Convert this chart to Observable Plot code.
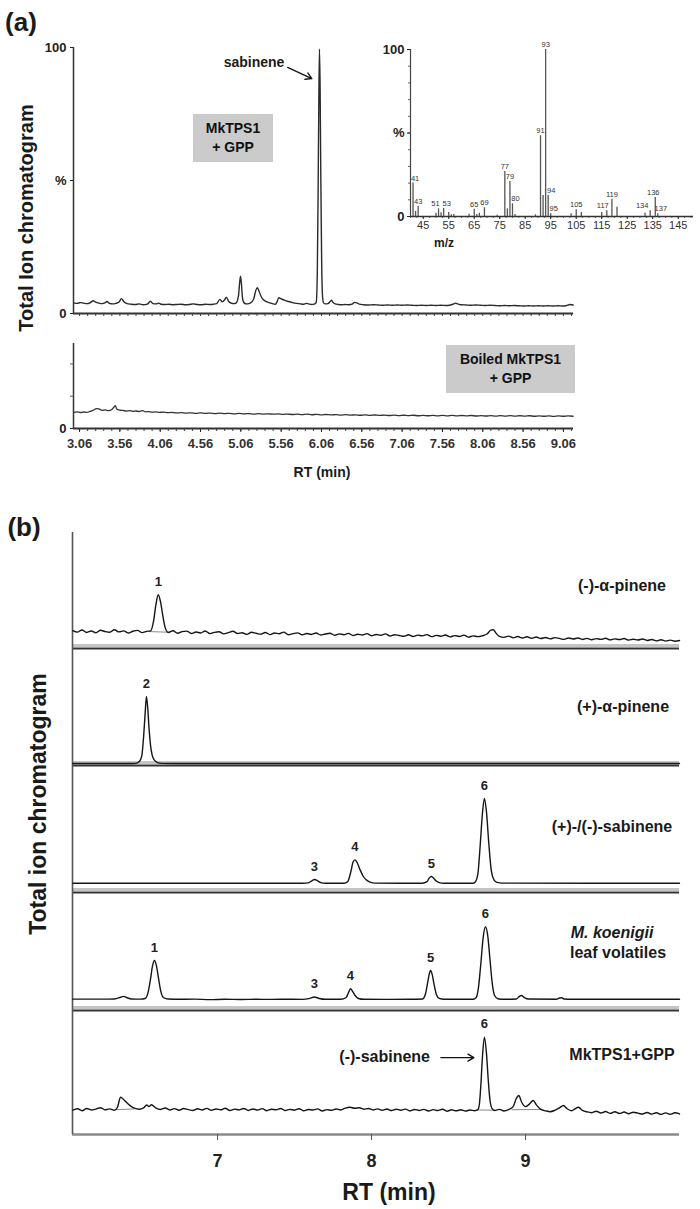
<!DOCTYPE html>
<html><head><meta charset="utf-8">
<script src="https://cdn.jsdelivr.net/npm/d3@7"></script>
<script src="https://cdn.jsdelivr.net/npm/@observablehq/plot@0.6"></script>
<style>
body{margin:0;background:#fff;}
#fig{position:relative;width:700px;height:1209px;overflow:hidden;font-family:"Liberation Sans",Arial,sans-serif;color:#1a1a1a;}
.lab{position:absolute;transform:translate(-50%,-50%);white-space:nowrap;font-weight:bold;line-height:1;}
.box{position:absolute;background:#cbcbcb;display:flex;align-items:center;justify-content:center;text-align:center;font-weight:bold;font-size:14px;line-height:1.35;color:#111;}
</style></head><body><div id="fig"></div>
<script>
// ---------------- DATA ----------------
// Panel (a): RT axis (min)
const rtDomainA = [2.985, 9.185];
const rtTicksA = [3.06, 3.56, 4.06, 4.56, 5.06, 5.56, 6.06, 6.56, 7.06, 7.56, 8.06, 8.56, 9.06];
const pctTicks = [0, 50, 100];
const pctTickText = ["0", "%", "100"];
// MkTPS1 + GPP total ion chromatogram [RT, %]
const traceA1 = [[2.99,4.0],[3.03,3.8],[3.07,4.1],[3.11,3.9],[3.15,3.7],[3.19,4.0],[3.23,4.8],[3.26,4.3],[3.30,3.9],[3.34,3.7],[3.38,4.1],[3.40,4.5],[3.43,3.8],[3.47,3.6],[3.51,3.8],[3.55,4.3],[3.58,5.6],[3.61,4.4],[3.65,3.7],[3.70,3.5],[3.75,3.4],[3.80,3.6],[3.85,3.3],[3.90,3.5],[3.94,4.6],[3.97,3.7],[4.01,3.6],[4.04,3.9],[4.07,3.5],[4.12,3.4],[4.17,3.5],[4.22,3.3],[4.27,3.4],[4.32,3.5],[4.37,3.3],[4.42,3.4],[4.47,3.6],[4.52,3.4],[4.57,3.3],[4.62,3.5],[4.67,3.4],[4.72,3.5],[4.76,3.7],[4.80,5.3],[4.83,4.4],[4.86,5.2],[4.88,6.1],[4.91,4.5],[4.94,3.9],[4.97,3.7],[5.00,3.9],[5.03,6.5],[5.045,11.5],[5.056,14.0],[5.068,11.0],[5.08,6.0],[5.10,4.0],[5.13,3.6],[5.16,3.7],[5.19,4.2],[5.22,5.5],[5.245,8.6],[5.265,9.7],[5.285,8.4],[5.31,6.5],[5.34,5.2],[5.37,4.6],[5.40,4.2],[5.43,3.9],[5.46,3.6],[5.49,3.5],[5.51,4.5],[5.53,5.9],[5.56,5.5],[5.60,5.0],[5.65,4.5],[5.70,4.1],[5.75,3.8],[5.80,3.6],[5.84,3.5],[5.87,3.8],[5.90,3.6],[5.94,3.4],[5.97,3.5],[5.995,4.2],[6.008,15],[6.018,45],[6.027,80],[6.035,99.5],[6.043,85],[6.052,50],[6.062,20],[6.072,7],[6.085,4.0],[6.11,3.6],[6.14,3.7],[6.17,4.6],[6.185,5.0],[6.20,4.3],[6.23,3.6],[6.27,3.4],[6.31,3.3],[6.35,3.4],[6.40,3.3],[6.44,3.5],[6.47,4.2],[6.50,4.0],[6.53,3.5],[6.58,3.3],[6.64,3.2],[6.70,3.3],[6.76,3.2],[6.82,3.1],[6.88,3.2],[6.94,3.1],[7.00,3.2],[7.06,3.1],[7.12,3.2],[7.18,3.1],[7.24,3.0],[7.30,3.1],[7.36,3.0],[7.42,3.1],[7.48,3.0],[7.54,3.1],[7.60,3.0],[7.66,3.2],[7.70,3.6],[7.72,3.9],[7.75,3.6],[7.79,3.3],[7.85,3.2],[7.91,3.1],[7.97,3.2],[8.03,3.1],[8.09,3.0],[8.15,3.1],[8.21,3.0],[8.27,2.9],[8.33,3.0],[8.39,2.9],[8.45,3.0],[8.51,2.9],[8.57,2.8],[8.63,2.9],[8.69,2.8],[8.75,2.9],[8.81,2.8],[8.87,2.9],[8.93,2.8],[8.99,2.9],[9.05,2.8],[9.10,3.0],[9.14,3.4],[9.18,3.2]];
// Boiled MkTPS1 + GPP [RT, % of panel]
const traceA2 = [[2.99,19.0],[3.03,19.5],[3.07,18.8],[3.11,19.4],[3.15,19.0],[3.19,20.2],[3.23,21.5],[3.27,23.5],[3.30,23.0],[3.34,21.4],[3.38,21.8],[3.42,21.0],[3.46,22.4],[3.49,25.5],[3.505,26.8],[3.52,23.0],[3.56,21.6],[3.60,21.2],[3.64,20.5],[3.68,21.0],[3.72,20.2],[3.76,20.6],[3.80,20.0],[3.84,21.0],[3.88,19.6],[3.92,19.9],[3.96,19.2],[4.00,19.5],[4.05,18.9],[4.10,19.3],[4.15,18.6],[4.20,18.9],[4.26,18.3],[4.32,18.7],[4.38,18.1],[4.44,18.5],[4.50,17.9],[4.56,18.3],[4.62,17.8],[4.68,18.2],[4.74,17.6],[4.80,18.0],[4.86,17.5],[4.92,17.9],[4.98,17.3],[5.04,17.7],[5.10,17.2],[5.16,17.6],[5.22,17.0],[5.28,17.5],[5.34,16.9],[5.40,17.3],[5.46,16.8],[5.52,17.2],[5.58,16.6],[5.64,17.0],[5.70,16.5],[5.76,16.9],[5.82,16.4],[5.88,16.8],[5.94,16.2],[6.00,16.7],[6.06,16.1],[6.12,16.5],[6.18,16.0],[6.24,16.4],[6.30,15.8],[6.36,16.3],[6.42,15.7],[6.48,16.1],[6.54,15.6],[6.60,16.0],[6.66,15.5],[6.72,15.9],[6.78,15.4],[6.84,15.8],[6.90,15.3],[6.96,15.7],[7.02,15.2],[7.08,15.6],[7.14,15.1],[7.20,15.6],[7.26,15.0],[7.32,15.5],[7.38,15.0],[7.44,15.4],[7.50,14.9],[7.56,15.4],[7.62,14.9],[7.68,15.4],[7.74,14.8],[7.80,15.3],[7.86,14.8],[7.92,15.3],[7.98,14.7],[8.04,15.2],[8.10,14.7],[8.16,15.2],[8.22,14.6],[8.28,15.1],[8.34,14.6],[8.40,15.1],[8.46,14.5],[8.52,15.0],[8.58,14.5],[8.64,15.0],[8.70,14.4],[8.76,14.9],[8.82,14.4],[8.88,14.9],[8.94,14.3],[9.00,14.9],[9.06,14.4],[9.12,14.8],[9.18,14.4]];
const boiledYTicks = [38, 76];
const sabArrowA = [{x1: 5.64, y1: 92.5, x2: 5.94, y2: 88.3}];

// Inset mass spectrum [m/z, relative %]
const mzDomain = [40, 151];
const mzTicks = [45, 55, 65, 75, 85, 95, 105, 115, 125, 135, 145];
const spectrum = [[41,20],[42,3],[43,6],[50,2],[51,4.6],[52,2.2],[53,4.8],[55,2.4],[56,1],[57,1.2],[63,1.4],[65,4.4],[66,1.2],[67,2],[69,5.2],[74,0.8],[77,27],[78,4.6],[79,21],[80,7.6],[81,1.2],[89,1],[91,48.4],[92,12.6],[93,100],[94,12.6],[95,1.6],[103,1.6],[105,4],[107,2.4],[115,2.4],[117,3.4],[119,10.4],[121,5.6],[132,2],[134,3.4],[136,11.4],[137,1.6]];
const labelledMz = [41,43,51,53,65,69,77,79,80,91,93,94,95,105,117,119,134,136,137];

// Panel (b): RT axis (min)
const rtDomainB = [6.058, 10];
const rtTicksB = [7, 8, 9];
const traceB1 = [[6.06,15.4],[6.09,14.1],[6.12,16.0],[6.15,13.8],[6.18,15.1],[6.21,13.5],[6.24,15.7],[6.27,14.6],[6.30,14.0],[6.33,16.2],[6.36,14.3],[6.39,15.2],[6.42,13.4],[6.45,14.9],[6.48,15.6],[6.51,13.7],[6.54,14.8],[6.565,15.2],[6.585,24],[6.60,38],[6.615,46.3],[6.63,40],[6.645,28],[6.66,18],[6.68,13.8],[6.71,15.3],[6.74,13.2],[6.77,14.6],[6.80,15.0],[6.83,12.9],[6.86,14.2],[6.89,13.4],[6.92,15.1],[6.95,12.8],[6.98,13.9],[7.01,14.4],[7.04,12.6],[7.07,13.7],[7.10,14.9],[7.13,12.9],[7.16,13.6],[7.19,12.2],[7.22,14.0],[7.25,13.1],[7.28,12.4],[7.31,13.8],[7.34,12.0],[7.37,13.3],[7.40,12.7],[7.43,14.1],[7.46,11.9],[7.49,12.8],[7.52,13.5],[7.55,11.8],[7.58,12.9],[7.61,12.1],[7.64,13.4],[7.67,11.6],[7.70,12.5],[7.73,13.2],[7.76,11.4],[7.79,12.6],[7.82,11.9],[7.85,13.0],[7.88,11.2],[7.91,12.3],[7.94,11.6],[7.97,12.8],[8.00,11.0],[8.03,12.1],[8.06,11.4],[8.09,12.6],[8.12,10.8],[8.15,11.9],[8.18,11.2],[8.21,10.5],[8.24,11.8],[8.27,10.4],[8.30,11.5],[8.33,10.9],[8.36,12.0],[8.39,10.2],[8.42,11.3],[8.45,10.6],[8.48,11.7],[8.51,10.0],[8.54,11.1],[8.57,10.4],[8.60,11.5],[8.63,9.8],[8.66,10.9],[8.69,10.2],[8.72,11.0],[8.75,12.5],[8.775,15.8],[8.79,16.1],[8.81,13.0],[8.83,10.4],[8.86,9.6],[8.89,10.7],[8.92,9.2],[8.95,10.3],[8.98,9.0],[9.01,10.1],[9.04,8.8],[9.07,9.9],[9.10,8.6],[9.13,9.5],[9.16,8.3],[9.19,9.4],[9.22,8.7],[9.25,7.9],[9.28,9.0],[9.31,8.2],[9.34,9.1],[9.37,7.8],[9.40,8.7],[9.43,7.6],[9.46,8.5],[9.49,7.9],[9.52,8.8],[9.55,7.4],[9.58,8.3],[9.61,7.7],[9.64,8.6],[9.67,7.2],[9.70,8.0],[9.73,7.3],[9.76,8.2],[9.79,6.9],[9.82,7.8],[9.85,6.6],[9.88,7.5],[9.91,6.4],[9.94,7.2],[9.97,6.3],[10.0,6.9]];
const traceB2 = [[6.06,1.7],[6.30,1.7],[6.45,1.7],[6.48,2.2],[6.50,5],[6.51,10],[6.52,25],[6.53,45],[6.538,59],[6.546,50],[6.555,32],[6.565,17],[6.575,9],[6.59,4.5],[6.61,2.5],[6.64,1.8],[6.70,1.7],[10.0,1.7]];
const traceB3 = [[6.06,7.3],[7.55,7.3],[7.59,7.6],[7.61,9.0],[7.629,10.2],[7.65,9.2],[7.67,7.8],[7.70,7.3],[7.82,7.3],[7.845,8.5],[7.865,16],[7.88,24],[7.892,25.7],[7.905,24],[7.925,18],[7.945,13],[7.965,10],[7.99,8.2],[8.02,7.4],[8.33,7.3],[8.36,8.5],[8.375,11.5],[8.389,12.6],[8.405,11],[8.42,9],[8.44,7.8],[8.47,7.3],[8.66,7.3],[8.675,8.5],[8.69,14],[8.705,36],[8.72,62],[8.733,74],[8.746,64],[8.762,38],[8.778,17],[8.795,10],[8.815,8],[8.85,7.4],[10.0,7.3]];
const traceB4 = [[6.06,9.6],[6.25,9.6],[6.33,9.8],[6.37,11.2],[6.39,12.0],[6.41,11.0],[6.44,9.8],[6.50,9.6],[6.53,10.2],[6.55,16],[6.565,27],[6.578,38],[6.59,42.4],[6.603,38],[6.617,27],[6.632,16],[6.65,10.8],[6.68,9.7],[6.75,9.5],[6.85,9.6],[6.95,9.2],[7.05,9.5],[7.15,9.3],[7.25,9.5],[7.35,9.4],[7.45,9.5],[7.55,9.4],[7.60,10.3],[7.629,11.5],[7.66,10.2],[7.70,9.5],[7.80,9.5],[7.835,11],[7.85,15],[7.863,18.4],[7.878,16],[7.895,12.5],[7.915,10.2],[7.95,9.5],[8.10,9.4],[8.25,9.5],[8.33,9.7],[8.35,14],[8.365,24],[8.375,31],[8.383,33.9],[8.393,31],[8.405,23],[8.42,14],[8.44,10.2],[8.47,9.5],[8.66,9.5],[8.68,11],[8.695,20],[8.71,40],[8.725,62],[8.74,71],[8.755,63],[8.77,42],[8.785,22],[8.80,12.5],[8.82,10],[8.86,9.5],[8.94,9.7],[8.96,12],[8.974,12.7],[8.99,11.2],[9.02,9.7],[9.20,9.5],[9.22,10.6],[9.235,10.8],[9.25,9.7],[9.30,9.5],[10.0,9.5]];
const traceB5 = [[6.06,19.6],[6.09,20.8],[6.12,19.2],[6.15,21.0],[6.18,19.8],[6.21,20.5],[6.24,21.6],[6.27,19.9],[6.30,20.7],[6.33,19.5],[6.35,22],[6.37,30],[6.40,27],[6.43,23.5],[6.46,21.2],[6.49,20.4],[6.52,21.5],[6.54,23.8],[6.555,22.5],[6.57,24],[6.60,21.3],[6.63,20.2],[6.66,21.4],[6.69,19.8],[6.72,20.9],[6.75,19.6],[6.78,21.0],[6.81,20.1],[6.84,19.4],[6.87,20.8],[6.90,19.7],[6.93,21.1],[6.96,19.5],[6.99,20.6],[7.02,19.9],[7.05,21.2],[7.08,19.3],[7.11,20.5],[7.14,19.8],[7.17,21.0],[7.20,19.4],[7.23,20.6],[7.26,19.7],[7.29,20.9],[7.32,19.2],[7.35,20.4],[7.38,19.9],[7.41,21.0],[7.44,19.3],[7.47,20.3],[7.50,19.6],[7.53,20.8],[7.56,19.1],[7.59,20.2],[7.62,19.7],[7.65,20.7],[7.68,19.0],[7.71,20.1],[7.74,19.5],[7.77,20.6],[7.80,19.8],[7.83,21.3],[7.86,22.0],[7.89,21.2],[7.92,21.6],[7.95,20.4],[7.98,21.0],[8.01,19.8],[8.04,20.7],[8.07,19.5],[8.10,20.6],[8.13,19.3],[8.16,20.4],[8.19,19.6],[8.22,20.5],[8.25,19.0],[8.28,20.2],[8.31,19.4],[8.34,20.3],[8.37,18.9],[8.40,20.1],[8.43,19.3],[8.46,20.4],[8.49,18.8],[8.52,19.9],[8.55,19.1],[8.58,20.0],[8.61,18.9],[8.64,19.8],[8.67,19.2],[8.69,20.0],[8.70,24],[8.71,40],[8.72,62],[8.733,78.5],[8.746,66],[8.758,44],[8.77,27],[8.785,20.5],[8.80,19.4],[8.83,20.3],[8.86,19.0],[8.89,20.1],[8.92,22.5],[8.94,29],[8.956,31.5],[8.975,26],[9.00,22.5],[9.025,24.5],[9.05,27.4],[9.07,24],[9.10,20.2],[9.13,19.1],[9.16,18.4],[9.19,19.5],[9.22,21.5],[9.246,23.4],[9.27,20.8],[9.30,19.2],[9.32,20.6],[9.344,22],[9.37,19.4],[9.40,18.2],[9.43,17.6],[9.46,18.8],[9.49,17.3],[9.52,18.5],[9.55,17.0],[9.58,18.3],[9.61,16.9],[9.64,18.1],[9.67,16.7],[9.70,18.0],[9.73,17.2],[9.76,16.5],[9.79,17.8],[9.82,16.4],[9.85,17.6],[9.88,16.2],[9.91,17.4],[9.94,16.3],[9.97,17.5],[10.0,16.6]];
// peak labels [RT, apex %, label]
const peaksB1 = [[6.615,46.3,"1"]];
const peaksB2 = [[6.538,59,"2"]];
const peaksB3 = [[7.629,10.2,"3"],[7.892,25.7,"4"],[8.389,12.6,"5"],[8.733,74,"6"]];
const peaksB4 = [[6.59,42.4,"1"],[7.629,11.5,"3"],[7.863,18.4,"4"],[8.383,33.9,"5"],[8.74,71,"6"]];
const peaksB5 = [[8.733,78.5,"6"]];
// integration baselines [RT1, y1, RT2, y2]
const baseB1 = [[6.555,14.6,6.69,14.0]];
const baseB5 = [[6.335,20.0,6.46,20.6],[8.685,19.8,8.80,19.6],[8.91,20.0,9.10,20.2]];
const sabArrowB = [{x1: 8.45, y1: 62, x2: 8.665, y2: 62}];

// ---------------- DRAWING ----------------
const FONT = '"Liberation Sans", Arial, sans-serif';
const fig = document.getElementById("fig");
const baseStyle = {background: "transparent", overflow: "visible", fontFamily: FONT, color: "#222"};
// label nudges (px) for crowded m/z annotations
const mzLabelDx = {41: 2, 51: -3, 53: 3, 80: 3, 94: 3, 95: 3, 117: -4, 134: -8, 136: -2, 137: 3};
function place(svg, top) {
  svg.style.position = "absolute"; svg.style.left = "0px"; svg.style.top = top + "px";
  fig.appendChild(svg);
}
function label(text, x, y, size, extra = {}) {
  const d = document.createElement("div");
  d.className = "lab"; d.textContent = text;
  d.style.left = x + "px"; d.style.top = y + "px"; d.style.fontSize = size + "px";
  Object.assign(d.style, extra); fig.appendChild(d); return d;
}
function box(lines, x, y, w, h) {
  const d = document.createElement("div");
  d.className = "box"; d.innerHTML = lines.join("<br>");
  Object.assign(d.style, {left: x + "px", top: y + "px", width: w + "px", height: h + "px"});
  fig.appendChild(d);
}
const X = d => d[0], Y = d => d[1];
const blank = () => "";
const minorA = d3.range(0, 63).map(i => +(2.96 + i * 0.1).toFixed(2)).filter(v => v >= rtDomainA[0] && v <= rtDomainA[1]);
const mzMinor = d3.range(40, 152, 2.5);

// (a) top chromatogram
place(Plot.plot({
  width: 700, height: 333, marginLeft: 73, marginRight: 127, marginTop: 47, marginBottom: 20,
  x: {domain: rtDomainA, label: null, axis: null}, y: {domain: [0, 100], label: null, axis: null},
  style: baseStyle,
  marks: [
    Plot.ruleX([rtDomainA[0]], {y1: 0, y2: 100, stroke: "#333", strokeWidth: 1.5}),
    Plot.axisY({ticks: pctTicks, tickFormat: d => pctTickText[pctTicks.indexOf(d)], tickSize: 3, tickPadding: 4, fontSize: 13, fontWeight: "bold", fill: "#222", label: null}),
    Plot.axisX({ticks: minorA, tickSize: 3, tickFormat: blank, label: null, stroke: "#444"}),
    Plot.ruleY([0], {stroke: "#333", strokeWidth: 2}),
    Plot.line(traceA1, {x: X, y: Y, stroke: "#2a2a2a", strokeWidth: 1.4, curve: "monotone-x"}),
    Plot.arrow(sabArrowA, {x1: "x1", y1: "y1", x2: "x2", y2: "y2", stroke: "#111", strokeWidth: 1.3, headLength: 8})
  ]
}), 0);

// inset mass spectrum
place(Plot.plot({
  width: 700, height: 246, marginLeft: 410, marginRight: 7, marginTop: 49, marginBottom: 30,
  x: {domain: mzDomain, label: null, axis: null}, y: {domain: [0, 100], label: null, axis: null},
  style: baseStyle,
  marks: [
    Plot.ruleX([mzDomain[0]], {y1: 0, y2: 100, stroke: "#444", strokeWidth: 1.2}),
    Plot.axisY({ticks: d3.range(0, 101, 10), tickSize: 2, tickFormat: blank, label: null, stroke: "#666"}),
    Plot.axisY({ticks: pctTicks, tickFormat: d => pctTickText[pctTicks.indexOf(d)], tickSize: 3, tickPadding: 3, fontSize: 13, fontWeight: "bold", fill: "#222", label: null}),
    Plot.axisX({ticks: mzMinor, tickSize: 2, tickFormat: blank, label: null, stroke: "#666"}),
    Plot.axisX({ticks: mzTicks, tickSize: 3, tickPadding: 2, fontSize: 11, fill: "#333", label: null}),
    Plot.ruleY([0], {stroke: "#333", strokeWidth: 1.5}),
    Plot.ruleX(spectrum, {x: X, y1: 0, y2: Y, stroke: "#555", strokeWidth: 1.3}),
    ...spectrum.filter(d => labelledMz.includes(d[0])).map(d =>
      Plot.text([d], {x: X, y: Y, text: e => String(e[0]), dy: -5, dx: mzLabelDx[d[0]] || 0, fontSize: 7.5, fill: "#333"}))
  ]
}), 0);

// (a) bottom chromatogram (boiled)
place(Plot.plot({
  width: 700, height: 125, marginLeft: 73, marginRight: 127, marginTop: 10, marginBottom: 30,
  x: {domain: rtDomainA, label: null, axis: null}, y: {domain: [0, 100], label: null, axis: null},
  style: baseStyle,
  marks: [
    Plot.ruleX([rtDomainA[0]], {y1: 0, y2: 100, stroke: "#333", strokeWidth: 1.5}),
    Plot.axisY({ticks: [0], tickFormat: d => pctTickText[pctTicks.indexOf(d)], tickSize: 3, tickPadding: 4, fontSize: 13, fontWeight: "bold", fill: "#222", label: null}),
    Plot.axisY({ticks: boiledYTicks, tickSize: 3, tickFormat: blank, label: null, stroke: "#666"}),
    Plot.axisX({ticks: minorA, tickSize: 3, tickFormat: blank, label: null, stroke: "#444"}),
    Plot.axisX({ticks: rtTicksA, tickSize: 4, tickPadding: 6, tickFormat: d => d.toFixed(2), fontSize: 13, fontWeight: "bold", fill: "#333", label: null}),
    Plot.ruleY([0], {stroke: "#333", strokeWidth: 2}),
    Plot.line(traceA2, {x: X, y: Y, stroke: "#333", strokeWidth: 1.3, curve: "monotone-x"})
  ]
}), 333);

// (b) stacked chromatograms
function chrom({data, peaks, bases = [], top, bottom, last = false, extra = []}) {
  const mt = 20, mb = last ? 45 : 6;
  const h = bottom - top;
  place(Plot.plot({
    width: 700, height: h + mt + mb, marginLeft: 72, marginRight: 21, marginTop: mt, marginBottom: mb,
    x: {domain: rtDomainB, label: null, axis: null}, y: {domain: [0, 100], label: null, axis: null},
    style: baseStyle,
    marks: [
      last ? Plot.ruleY([0], {stroke: "#8a8a8a", strokeWidth: 2.5})
           : [Plot.ruleY([0], {stroke: "#c4c4c4", strokeWidth: 3, dy: -3}), Plot.ruleY([0], {stroke: "#333", strokeWidth: 2})],
      Plot.ruleX([rtDomainB[0]], {y1: 0, y2: 100, stroke: "#555", strokeWidth: 1.6}),
      Plot.link(bases, {x1: d => d[0], y1: d => d[1], x2: d => d[2], y2: d => d[3], stroke: "#8a8a8a", strokeWidth: 1}),
      Plot.line(data, {x: X, y: Y, stroke: "#151515", strokeWidth: 1.4, curve: "monotone-x"}),
      Plot.text(peaks, {x: X, y: Y, text: d => d[2], dy: -13, fontSize: 13, fontWeight: "bold", fill: "#222"}),
      last ? Plot.axisX({ticks: rtTicksB, tickSize: 6, tickPadding: 14, tickFormat: d => String(d), fontSize: 18, fontWeight: "bold", fill: "#222", stroke: "#555", label: null}) : null,
      ...extra
    ]
  }), top - mt);
}
chrom({data: traceB1, peaks: peaksB1, bases: baseB1, top: 532, bottom: 648});
chrom({data: traceB2, peaks: peaksB2, top: 648, bottom: 765});
chrom({data: traceB3, peaks: peaksB3, top: 765, bottom: 892});
chrom({data: traceB4, peaks: peaksB4, top: 892, bottom: 1010});
chrom({data: traceB5, peaks: peaksB5, bases: baseB5, top: 1010, bottom: 1134, last: true,
  extra: [Plot.arrow(sabArrowB, {x1: "x1", y1: "y1", x2: "x2", y2: "y2", stroke: "#111", strokeWidth: 1.3, headLength: 8})]});

// ---------------- TEXT ----------------
label("(a)", 21, 22, 26);
label("(b)", 24, 527, 26);
label("sabinene", 254, 62, 14);
box(["MkTPS1", "+ GPP"], 193, 114, 80, 48);
box(["Boiled MkTPS1", "+ GPP"], 446, 345, 129, 48);
label("RT (min)", 322, 472, 14);
label("m/z", 444, 243, 12);
label("Total Ion chromatogram", 26, 218, 20, {transform: "translate(-50%,-50%) rotate(-90deg)"});
label("Total ion chromatogram", 38, 804, 23, {transform: "translate(-50%,-50%) rotate(-90deg)"});
label("(-)-α-pinene", 622, 586, 16);
label("(+)-α-pinene", 623, 707, 16);
label("(+)-/(-)-sabinene", 612, 827, 16);
label("M. koenigii", 612, 933, 16, {fontStyle: "italic"});
label("leaf volatiles", 618, 953, 16);
label("MkTPS1+GPP", 622, 1055, 16);
label("(-)-sabinene", 430, 1057, 16, {transform: "translate(-100%,-50%)"});
label("RT (min)", 389, 1192, 23);
</script></body></html>
